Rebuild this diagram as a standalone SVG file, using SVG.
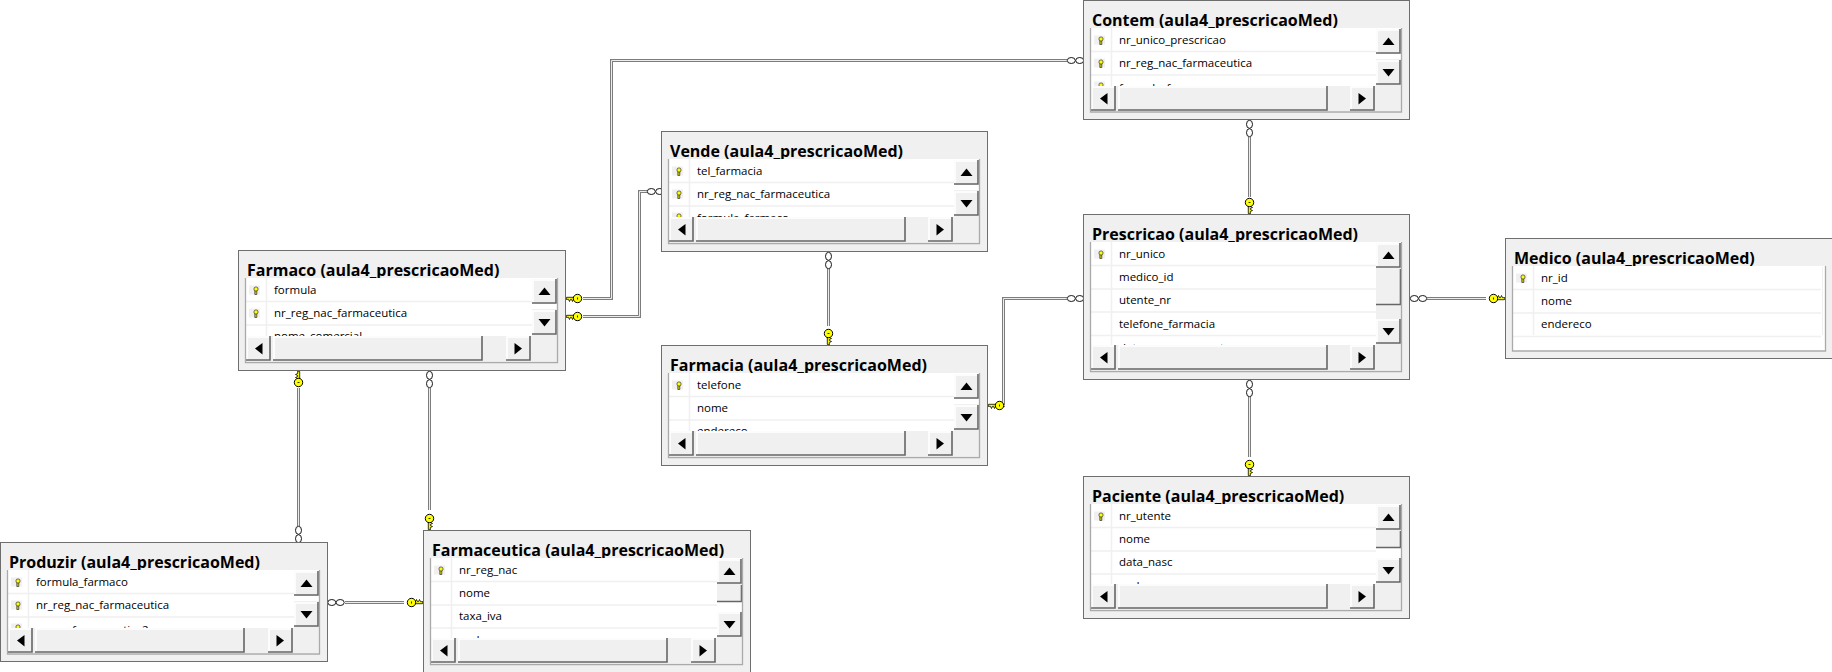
<svg xmlns="http://www.w3.org/2000/svg" width="1832" height="672" viewBox="0 0 1832 672">
<style>
.frame{fill:#f0f0f0;stroke:#6e6e6e;stroke-width:1}
.inner{fill:#fff}
.edge{fill:none;stroke:#aaa;stroke-width:1.3}
.sep{fill:none;stroke:#f0f0f0;stroke-width:1.5}
.bar{fill:#f0f0f0}
.hi{fill:none;stroke:#fff;stroke-width:1.5}
.lo{fill:none;stroke:#666;stroke-width:1.6}
.title{font:bold 16px "Open Sans","Noto Sans",sans-serif;fill:#000}
.col{font:11.5px "Open Sans","Noto Sans",sans-serif;fill:#000}
.wo{fill:none;stroke:#7d7d7d;stroke-width:3}
.wi{fill:none;stroke:#ececec;stroke-width:1}
.ring{fill:#fff;stroke:#000;stroke-width:.9}
</style>
<defs>
<g id="btn"><rect width="25" height="25" fill="#f0f0f0"/><path class="hi" d="M1 24V1H24"/><path class="lo" d="M24 0V24H0"/></g>
<g id="up"><use href="#btn"/><path d="M6.5 16H18.5L12.5 8.5Z"/></g>
<g id="down"><use href="#btn"/><path d="M6.5 9H18.5L12.5 16.5Z"/></g>
<g id="left"><use href="#btn"/><path d="M16.5 7V18.5L9 12.5Z"/></g>
<g id="right"><use href="#btn"/><path d="M8.5 7V18.5L16 12.5Z"/></g>
<g id="hthumb"><rect width="210" height="25" fill="#f0f0f0"/><path class="hi" d="M1 24V1H209"/><path class="lo" d="M209 0V24H0"/></g>
<g id="rowkey"><rect x="-7" y="-4.5" width="11" height="9" fill="#f0f0f0"/><path d="M-1.2 0.5V4.5H.8V0.5" fill="#c8c800" stroke="#333" stroke-width=".7"/><circle cx="0" cy="-1" r="2.1" fill="#ffff00" stroke="#333" stroke-width=".7"/></g>
<g id="key"><path d="M-1.2 -8V-0.5L0.8 0V-2.5L3 -3.5L0.8 -4.5V-5.5L3 -6.5L0.8 -7.5V-8Z" fill="#ffff00" stroke="#000" stroke-width=".8"/><circle cx="0" cy="-11.5" r="4.2" fill="#ffff00" stroke="#000" stroke-width="1"/><path d="M-1 -11.5H1" stroke="#000" stroke-width=".8"/></g>
<g id="rings"><ellipse class="ring" cx="-4.2" cy="0" rx="4" ry="3"/><ellipse class="ring" cx="4.2" cy="0" rx="4" ry="3"/></g>
</defs>
<g id="connectors">
<path class="wo" d="M1067 60.5H611.5V298.5H583"/><path class="wi" d="M1067 60.5H611.5V298.5H583"/>
<path class="wo" d="M649 191.5H639.5V316.5H583"/><path class="wi" d="M649 191.5H639.5V316.5H583"/>
<path class="wo" d="M298.5 388V526"/><path class="wi" d="M298.5 388V526"/>
<path class="wo" d="M429.5 388V510"/><path class="wi" d="M429.5 388V510"/>
<path class="wo" d="M345 602.5H404"/><path class="wi" d="M345 602.5H404"/>
<path class="wo" d="M828.5 268V326"/><path class="wi" d="M828.5 268V326"/>
<path class="wo" d="M1067 298.5H1003.5V405.5H1005"/><path class="wi" d="M1067 298.5H1003.5V405.5H1005"/>
<path class="wo" d="M1249.5 137V197"/><path class="wi" d="M1249.5 137V197"/>
<path class="wo" d="M1249.5 396V457"/><path class="wi" d="M1249.5 396V457"/>
<path class="wo" d="M1427 298.5H1486"/><path class="wi" d="M1427 298.5H1486"/>
<use href="#rings" transform="translate(1075.5 60.5)"/>
<use href="#rings" transform="translate(655.5 191.5)"/>
<use href="#rings" transform="translate(1075.5 298.5)"/>
<use href="#rings" transform="translate(1418.5 298.5)"/>
<use href="#rings" transform="translate(336 602.5)"/>
<use href="#rings" transform="translate(1249.5 128.5) rotate(90)"/>
<use href="#rings" transform="translate(1249.5 388.5) rotate(90)"/>
<use href="#rings" transform="translate(828.5 260.5) rotate(90)"/>
<use href="#rings" transform="translate(298.5 534.5) rotate(90)"/>
<use href="#rings" transform="translate(429.5 379.5) rotate(90)"/>
<use href="#key" transform="translate(566 298.5) rotate(90)"/>
<use href="#key" transform="translate(566 316.5) rotate(90)"/>
<use href="#key" transform="translate(298.5 371) rotate(180)"/>
<use href="#key" transform="translate(429.5 530)"/>
<use href="#key" transform="translate(423 602.5) rotate(-90)"/>
<use href="#key" transform="translate(828.5 345)"/>
<use href="#key" transform="translate(988 405.5) rotate(90)"/>
<use href="#key" transform="translate(1249.5 214)"/>
<use href="#key" transform="translate(1249.5 476)"/>
<use href="#key" transform="translate(1505 298.5) rotate(-90)"/>
</g>
<g id="contem" transform="translate(1083 0)">
<rect class="frame" x=".5" y=".5" width="326" height="119"/>
<text class="title" x="9" y="26">Contem (aula4_prescricaoMed)</text>
<rect class="inner" x="8" y="28" width="310" height="84"/>
<path class="sep" d="M8 51.5H293M8 75H293M28.5 28V86"/>
<use href="#rowkey" x="18" y="40"/><use href="#rowkey" x="18" y="63"/><use href="#rowkey" x="18" y="86"/>
<text class="col" x="36" y="44">nr_unico_prescricao</text><text class="col" x="36" y="67">nr_reg_nac_farmaceutica</text><text class="col" x="36" y="92">formula_farmaco</text>
<rect class="bar" x="8" y="86" width="310" height="25"/><use href="#left" x="8" y="86"/><use href="#hthumb" x="35" y="86"/><use href="#right" x="267" y="86"/>
<rect class="bar" x="293" y="29" width="25" height="57"/><rect x="293" y="54" width="25" height="5" fill="#fff"/><use href="#up" x="293" y="29"/><use href="#down" x="293" y="60"/>
<path class="edge" d="M7.5 28V112H318.5V28"/>
</g>
<g id="vende" transform="translate(661 131)">
<rect class="frame" x=".5" y=".5" width="326" height="120"/>
<text class="title" x="9" y="26">Vende (aula4_prescricaoMed)</text>
<rect class="inner" x="8" y="28" width="310" height="84"/>
<path class="sep" d="M8 51.5H293M8 75H293M28.5 28V86"/>
<use href="#rowkey" x="18" y="40"/><use href="#rowkey" x="18" y="63"/><use href="#rowkey" x="18" y="86"/>
<text class="col" x="36" y="44">tel_farmacia</text><text class="col" x="36" y="67">nr_reg_nac_farmaceutica</text><text class="col" x="36" y="90.5">formula_farmaco</text>
<rect class="bar" x="8" y="86" width="310" height="25"/><use href="#left" x="8" y="86"/><use href="#hthumb" x="35" y="86"/><use href="#right" x="267" y="86"/>
<rect class="bar" x="293" y="29" width="25" height="57"/><rect x="293" y="54" width="25" height="5" fill="#fff"/><use href="#up" x="293" y="29"/><use href="#down" x="293" y="60"/>
<path class="edge" d="M7.5 28V112.5H318.5V28"/>
</g>
<g id="farmacia" transform="translate(661 345)">
<rect class="frame" x=".5" y=".5" width="326" height="120"/>
<text class="title" x="9" y="26">Farmacia (aula4_prescricaoMed)</text>
<rect class="inner" x="8" y="28" width="310" height="84"/>
<path class="sep" d="M8 51.5H293M8 75H293M28.5 28V86"/>
<use href="#rowkey" x="18" y="40"/>
<text class="col" x="36" y="44">telefone</text><text class="col" x="36" y="67">nome</text><text class="col" x="36" y="90">endereco</text>
<rect class="bar" x="8" y="86" width="310" height="25"/><use href="#left" x="8" y="86"/><use href="#hthumb" x="35" y="86"/><use href="#right" x="267" y="86"/>
<rect class="bar" x="293" y="29" width="25" height="57"/><rect x="293" y="54" width="25" height="5" fill="#fff"/><use href="#up" x="293" y="29"/><use href="#down" x="293" y="60"/>
<path class="edge" d="M7.5 28V112.5H318.5V28"/>
</g>
<g id="farmaco" transform="translate(238 250)">
<rect class="frame" x=".5" y=".5" width="327" height="120"/>
<text class="title" x="9" y="26">Farmaco (aula4_prescricaoMed)</text>
<rect class="inner" x="8" y="28" width="311" height="84"/>
<path class="sep" d="M8 51.5H294M8 75H294M28.5 28V86"/>
<use href="#rowkey" x="18" y="40"/><use href="#rowkey" x="18" y="63"/>
<text class="col" x="36" y="44">formula</text><text class="col" x="36" y="67">nr_reg_nac_farmaceutica</text><text class="col" x="36" y="90">nome_comercial</text>
<rect class="bar" x="8" y="86" width="311" height="25"/><use href="#left" x="8" y="86"/><use href="#hthumb" x="35" y="86"/><use href="#right" x="268" y="86"/>
<rect class="bar" x="294" y="29" width="25" height="57"/><rect x="294" y="54" width="25" height="5" fill="#fff"/><use href="#up" x="294" y="29"/><use href="#down" x="294" y="60"/>
<path class="edge" d="M7.5 28V112.5H319.5V28"/>
</g>
<g id="produzir" transform="translate(0 542)">
<rect class="frame" x=".5" y=".5" width="327" height="119"/>
<text class="title" x="9" y="26">Produzir (aula4_prescricaoMed)</text>
<rect class="inner" x="8" y="28" width="311" height="84"/>
<path class="sep" d="M8 51.5H294M8 75H294M28.5 28V86"/>
<use href="#rowkey" x="18" y="40"/><use href="#rowkey" x="18" y="63"/><use href="#rowkey" x="18" y="86"/>
<text class="col" x="36" y="44">formula_farmaco</text><text class="col" x="36" y="67">nr_reg_nac_farmaceutica</text><text class="col" x="36" y="92">nome_farmaceutica2</text>
<rect class="bar" x="8" y="86" width="311" height="25"/><use href="#left" x="8" y="86"/><use href="#hthumb" x="35" y="86"/><use href="#right" x="268" y="86"/>
<rect class="bar" x="294" y="29" width="25" height="57"/><rect x="294" y="54" width="25" height="5" fill="#fff"/><use href="#up" x="294" y="29"/><use href="#down" x="294" y="60"/>
<path class="edge" d="M7.5 28V112H319.5V28"/>
</g>
<g id="farmaceutica" transform="translate(423 530)">
<rect class="frame" x=".5" y=".5" width="327" height="142"/>
<text class="title" x="9" y="26">Farmaceutica (aula4_prescricaoMed)</text>
<rect class="inner" x="8" y="28" width="311" height="106"/>
<path class="sep" d="M8 51.5H294M8 75H294M8 98H294M28.5 28V108"/>
<use href="#rowkey" x="18" y="40"/>
<text class="col" x="36" y="44">nr_reg_nac</text><text class="col" x="36" y="67">nome</text><text class="col" x="36" y="90">taxa_iva</text><text class="col" x="36" y="114">endereco</text>
<rect class="bar" x="8" y="108" width="311" height="25"/><use href="#left" x="8" y="108"/><use href="#hthumb" x="35" y="108"/><use href="#right" x="268" y="108"/>
<rect class="bar" x="294" y="29" width="25" height="79"/><rect x="294" y="72" width="25" height="10" fill="#fff"/><use href="#up" x="294" y="29"/><rect x="294" y="55" width="25" height="17" fill="#f0f0f0"/><path class="lo" d="M294 71.5H319M318.5 55V72"/><use href="#down" x="294" y="82"/>
<path class="edge" d="M7.5 28V134.5H319.5V28"/>
</g>
<g id="paciente" transform="translate(1083 476)">
<rect class="frame" x=".5" y=".5" width="326" height="142"/>
<text class="title" x="9" y="26">Paciente (aula4_prescricaoMed)</text>
<rect class="inner" x="8" y="28" width="310" height="106"/>
<path class="sep" d="M8 51.5H293M8 75H293M8 98H293M28.5 28V108"/>
<use href="#rowkey" x="18" y="40"/>
<text class="col" x="36" y="44">nr_utente</text><text class="col" x="36" y="67">nome</text><text class="col" x="36" y="90">data_nasc</text><text class="col" x="36" y="114">endereco</text>
<rect class="bar" x="8" y="108" width="310" height="25"/><use href="#left" x="8" y="108"/><use href="#hthumb" x="35" y="108"/><use href="#right" x="267" y="108"/>
<rect class="bar" x="293" y="29" width="25" height="79"/><rect x="293" y="72" width="25" height="10" fill="#fff"/><use href="#up" x="293" y="29"/><rect x="293" y="55" width="25" height="17" fill="#f0f0f0"/><path class="lo" d="M293 71.5H318M317.5 55V72"/><use href="#down" x="293" y="82"/>
<path class="edge" d="M7.5 28V134.5H318.5V28"/>
</g>
<g id="prescricao" transform="translate(1083 214)">
<rect class="frame" x=".5" y=".5" width="326" height="165"/>
<text class="title" x="9" y="26">Prescricao (aula4_prescricaoMed)</text>
<rect class="inner" x="8" y="28" width="310" height="130"/>
<path class="sep" d="M8 51.5H293M8 75H293M8 98H293M8 121.5H293M28.5 28V131"/>
<use href="#rowkey" x="18" y="40"/>
<text class="col" x="36" y="44">nr_unico</text><text class="col" x="36" y="67">medico_id</text><text class="col" x="36" y="90">utente_nr</text><text class="col" x="36" y="114">telefone_farmacia</text><text class="col" x="36" y="137.5">data_processamento</text>
<rect class="bar" x="8" y="131" width="310" height="25"/><use href="#left" x="8" y="131"/><use href="#hthumb" x="35" y="131"/><use href="#right" x="267" y="131"/>
<rect class="bar" x="293" y="29" width="25" height="102"/><use href="#up" x="293" y="29"/><rect x="293" y="55" width="25" height="36" fill="#f0f0f0"/><path class="lo" d="M293 90.5H318M317.5 55V91"/><use href="#down" x="293" y="105"/>
<path class="edge" d="M7.5 28V157.5H318.5V28"/>
</g>
<g id="medico" transform="translate(1505 238)">
<rect class="frame" x=".5" y=".5" width="328" height="120"/>
<text class="title" x="9" y="26">Medico (aula4_prescricaoMed)</text>
<rect class="inner" x="8" y="28" width="313" height="85"/>
<path class="sep" d="M8 51.5H316M8 75H316M8 98.5H316M28.5 28V97"/>
<path d="M317.5 29V97" stroke="#f0f0f0" fill="none"/>
<use href="#rowkey" x="18" y="40"/>
<text class="col" x="36" y="44">nr_id</text><text class="col" x="36" y="67">nome</text><text class="col" x="36" y="90">endereco</text>
<path class="edge" d="M7.5 28V113H320.5V28"/>
</g>
</svg>
